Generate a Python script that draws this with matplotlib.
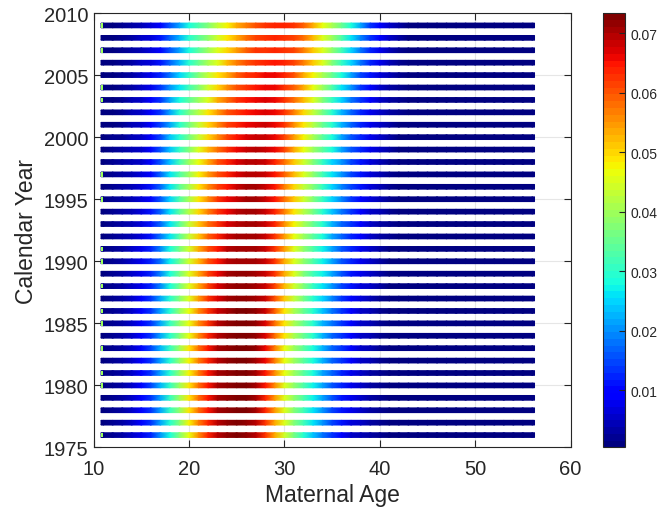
"""Maternal age distribution of births by calendar year, drawn as colour-coded bands."""
import matplotlib
matplotlib.use("Agg")
import matplotlib.pyplot as plt
import numpy as np
from matplotlib.cm import ScalarMappable
from matplotlib.colors import Normalize
from matplotlib.patches import Rectangle

plt.rcParams["font.family"] = ["Liberation Sans", "DejaVu Sans"]

AGES = list(range(11, 57))
YEARS = list(range(1976, 2010))

# share of births at each maternal age (per mille), one row per year, ages 11..56
RATE_PERMILLE = [
    [1, 2, 3, 5, 8, 12, 20, 28, 37, 47, 56, 64, 69, 72, 73, 72, 69, 62, 53, 44, 36, 30, 24, 18, 13, 9, 6, 4, 3, 2, 1, 1, 1, 0.6, 0.5, 0.5, 0.5, 0.5, 0.5, 0.5, 0.5, 0.5, 0.5, 0.5, 0.5, 0.5],  # 1976
    [1, 2, 3, 5, 9, 13, 21, 30, 38, 48, 57, 64, 69, 72, 73, 72, 69, 63, 54, 45, 38, 32, 26, 20, 15, 11, 7, 5, 3, 2, 1.5, 1, 0.8, 0.6, 0.5, 0.5, 0.5, 0.5, 0.5, 0.5, 0.5, 0.5, 0.5, 0.5, 0.5, 0.5],  # 1977
    [1, 2, 3, 5, 9, 14, 22, 31, 39, 49, 58, 65, 70, 72, 73, 73, 70, 64, 55, 46, 38, 32, 26, 20, 15, 11, 8, 5, 3, 2, 1.5, 1, 0.8, 0.6, 0.5, 0.5, 0.5, 0.5, 0.5, 0.5, 0.5, 0.5, 0.5, 0.5, 0.5, 0.5],  # 1978
    [1, 2, 3, 5, 9, 14, 22, 31, 40, 49, 58, 65, 70, 72, 73, 73, 70, 64, 55, 46, 39, 33, 27, 21, 16, 11, 8, 5, 3, 2, 1.5, 1, 0.8, 0.6, 0.5, 0.5, 0.5, 0.5, 0.5, 0.5, 0.5, 0.5, 0.5, 0.5, 0.5, 0.5],  # 1979
    [1, 2, 3, 6, 10, 15, 23, 31, 40, 49, 58, 65, 70, 72, 73, 73, 71, 65, 56, 46, 39, 33, 27, 21, 16, 12, 8, 5, 3, 2, 1.5, 1, 0.8, 0.6, 0.5, 0.5, 0.5, 0.5, 0.5, 0.5, 0.5, 0.5, 0.5, 0.5, 0.5, 0.5],  # 1980
    [1, 2, 3, 5, 9, 14, 22, 30, 39, 48, 57, 65, 70, 72, 73, 73, 71, 65, 56, 47, 40, 34, 28, 22, 17, 12, 8, 5, 3, 2, 1.5, 1, 0.8, 0.6, 0.5, 0.5, 0.5, 0.5, 0.5, 0.5, 0.5, 0.5, 0.5, 0.5, 0.5, 0.5],  # 1981
    [1, 2, 3, 5, 9, 14, 22, 30, 39, 48, 57, 64, 69, 72, 73, 73, 71, 66, 57, 47, 40, 34, 28, 23, 17, 13, 9, 6, 4, 2, 1.5, 1, 0.8, 0.6, 0.5, 0.5, 0.5, 0.5, 0.5, 0.5, 0.5, 0.5, 0.5, 0.5, 0.5, 0.5],  # 1982
    [1, 2, 3, 6, 10, 15, 23, 31, 40, 49, 58, 65, 70, 72, 73, 73, 72, 66, 57, 47, 40, 34, 28, 23, 17, 13, 9, 6, 4, 2, 1.5, 1, 0.8, 0.6, 0.5, 0.5, 0.5, 0.5, 0.5, 0.5, 0.5, 0.5, 0.5, 0.5, 0.5, 0.5],  # 1983
    [1, 2, 3, 5, 9, 13, 21, 30, 38, 47, 56, 64, 69, 72, 73, 73, 72, 67, 58, 49, 41, 35, 29, 23, 17, 13, 9, 6, 4, 2, 1.5, 1, 0.8, 0.6, 0.5, 0.5, 0.5, 0.5, 0.5, 0.5, 0.5, 0.5, 0.5, 0.5, 0.5, 0.5],  # 1984
    [1, 2, 3, 5, 9, 14, 22, 31, 39, 47, 56, 63, 69, 72, 73, 73, 72, 67, 58, 49, 41, 35, 29, 23, 18, 13, 9, 6, 4, 2, 1.5, 1, 0.8, 0.6, 0.5, 0.5, 0.5, 0.5, 0.5, 0.5, 0.5, 0.5, 0.5, 0.5, 0.5, 0.5],  # 1985
    [1, 2, 3, 5, 9, 14, 22, 30, 39, 47, 56, 63, 68, 71, 73, 73, 72, 68, 59, 49, 41, 35, 29, 24, 18, 13, 9, 6, 4, 2.5, 1.5, 1, 0.8, 0.6, 0.5, 0.5, 0.5, 0.5, 0.5, 0.5, 0.5, 0.5, 0.5, 0.5, 0.5, 0.5],  # 1986
    [1, 2, 3, 5, 9, 13, 21, 30, 38, 46, 55, 62, 67, 70, 72, 72, 71, 68, 60, 51, 43, 36, 30, 25, 19, 14, 10, 7, 4, 2.5, 1.5, 1, 0.8, 0.6, 0.5, 0.5, 0.5, 0.5, 0.5, 0.5, 0.5, 0.5, 0.5, 0.5, 0.5, 0.5],  # 1987
    [1, 2, 3, 5, 8, 12, 19, 28, 36, 45, 54, 61, 67, 70, 72, 72, 71, 68, 61, 52, 44, 37, 31, 26, 20, 15, 11, 7, 5, 3, 1.5, 1, 0.8, 0.6, 0.5, 0.5, 0.5, 0.5, 0.5, 0.5, 0.5, 0.5, 0.5, 0.5, 0.5, 0.5],  # 1988
    [1, 2, 3, 5, 8, 12, 19, 28, 36, 45, 54, 61, 66, 70, 72, 72, 71, 68, 62, 53, 45, 38, 32, 27, 21, 16, 11, 8, 5, 3, 1.5, 1, 0.8, 0.6, 0.5, 0.5, 0.5, 0.5, 0.5, 0.5, 0.5, 0.5, 0.5, 0.5, 0.5, 0.5],  # 1989
    [1, 2, 3, 5, 8, 12, 18, 27, 35, 44, 52, 60, 65, 69, 71, 71, 70, 68, 62, 54, 45, 39, 33, 27, 21, 16, 12, 8, 5, 3, 1.5, 1, 0.8, 0.6, 0.5, 0.5, 0.5, 0.5, 0.5, 0.5, 0.5, 0.5, 0.5, 0.5, 0.5, 0.5],  # 1990
    [1, 2, 3, 5, 8, 12, 19, 28, 36, 44, 53, 60, 65, 69, 71, 71, 70, 68, 63, 55, 46, 39, 33, 27, 21, 16, 12, 8, 5, 3, 1.5, 1, 0.8, 0.6, 0.5, 0.5, 0.5, 0.5, 0.5, 0.5, 0.5, 0.5, 0.5, 0.5, 0.5, 0.5],  # 1991
    [1, 2, 3, 4, 7, 11, 18, 26, 34, 43, 51, 59, 64, 68, 70, 71, 70, 68, 63, 55, 47, 40, 34, 28, 22, 17, 12, 9, 6, 3.5, 2, 1.2, 0.8, 0.6, 0.5, 0.5, 0.5, 0.5, 0.5, 0.5, 0.5, 0.5, 0.5, 0.5, 0.5, 0.5],  # 1992
    [1, 2, 3, 4, 7, 11, 17, 26, 34, 43, 51, 58, 63, 67, 69, 70, 70, 68, 64, 56, 48, 41, 35, 29, 23, 17, 13, 9, 6, 3.5, 2, 1.2, 0.8, 0.6, 0.5, 0.5, 0.5, 0.5, 0.5, 0.5, 0.5, 0.5, 0.5, 0.5, 0.5, 0.5],  # 1993
    [1, 2, 3, 4, 7, 11, 17, 26, 34, 42, 50, 57, 62, 66, 69, 70, 70, 68, 64, 57, 49, 42, 36, 30, 24, 18, 13, 9, 6, 4, 2, 1.2, 0.8, 0.6, 0.5, 0.5, 0.5, 0.5, 0.5, 0.5, 0.5, 0.5, 0.5, 0.5, 0.5, 0.5],  # 1994
    [1, 2, 3, 4, 7, 10, 16, 25, 33, 41, 49, 56, 62, 66, 68, 70, 70, 68, 65, 58, 51, 44, 37, 31, 25, 19, 14, 10, 7, 4, 2.5, 1.5, 1, 0.6, 0.5, 0.5, 0.5, 0.5, 0.5, 0.5, 0.5, 0.5, 0.5, 0.5, 0.5, 0.5],  # 1995
    [1, 2, 3, 4, 7, 11, 17, 26, 34, 41, 49, 56, 61, 65, 68, 70, 70, 68, 65, 57, 50, 43, 37, 31, 25, 19, 15, 11, 7, 4, 2.5, 1.5, 1, 0.6, 0.5, 0.5, 0.5, 0.5, 0.5, 0.5, 0.5, 0.5, 0.5, 0.5, 0.5, 0.5],  # 1996
    [1, 2, 3, 4, 7, 10, 17, 26, 33, 40, 48, 55, 60, 64, 67, 69, 69, 68, 65, 59, 52, 45, 39, 32, 26, 20, 15, 11, 7, 4.5, 2.5, 1.5, 1, 0.6, 0.5, 0.5, 0.5, 0.5, 0.5, 0.5, 0.5, 0.5, 0.5, 0.5, 0.5, 0.5],  # 1997
    [1, 2, 3, 4, 6, 10, 16, 24, 32, 40, 47, 54, 60, 64, 67, 69, 69, 68, 64, 58, 51, 44, 37, 31, 25, 20, 15, 11, 7, 4.5, 2.5, 1.5, 1, 0.6, 0.5, 0.5, 0.5, 0.5, 0.5, 0.5, 0.5, 0.5, 0.5, 0.5, 0.5, 0.5],  # 1998
    [1, 2, 3, 4, 6, 10, 16, 24, 31, 38, 45, 52, 58, 63, 66, 68, 69, 68, 66, 61, 54, 47, 40, 34, 28, 22, 16, 12, 8, 5, 3, 1.5, 1, 0.6, 0.5, 0.5, 0.5, 0.5, 0.5, 0.5, 0.5, 0.5, 0.5, 0.5, 0.5, 0.5],  # 1999
    [1, 2, 2.5, 4, 6, 9, 15, 24, 30, 36, 43, 50, 56, 61, 65, 67, 68, 68, 66, 61, 55, 48, 41, 34, 28, 22, 16, 12, 8, 5, 3, 1.5, 1, 0.6, 0.5, 0.5, 0.5, 0.5, 0.5, 0.5, 0.5, 0.5, 0.5, 0.5, 0.5, 0.5],  # 2000
    [1, 1.5, 2.5, 4, 6, 9, 15, 22, 29, 36, 43, 50, 56, 61, 64, 66, 67, 68, 66, 62, 56, 49, 42, 35, 29, 23, 17, 12, 8, 5, 3, 1.5, 1, 0.6, 0.5, 0.5, 0.5, 0.5, 0.5, 0.5, 0.5, 0.5, 0.5, 0.5, 0.5, 0.5],  # 2001
    [1, 1.5, 2.5, 4, 6, 9, 14, 22, 29, 36, 42, 49, 55, 60, 63, 65, 66, 67, 66, 62, 57, 50, 43, 36, 29, 23, 17, 12, 8, 5, 3, 1.8, 1, 0.6, 0.5, 0.5, 0.5, 0.5, 0.5, 0.5, 0.5, 0.5, 0.5, 0.5, 0.5, 0.5],  # 2002
    [1, 1.5, 2.5, 4, 6, 9, 14, 21, 28, 34, 40, 46, 53, 58, 62, 65, 66, 67, 66, 63, 58, 52, 45, 38, 31, 25, 18, 13, 9, 5.5, 3, 1.8, 1, 0.6, 0.5, 0.5, 0.5, 0.5, 0.5, 0.5, 0.5, 0.5, 0.5, 0.5, 0.5, 0.5],  # 2003
    [1, 1.5, 2.5, 3.5, 5.5, 8, 13, 20, 26, 32, 38, 44, 50, 56, 60, 63, 65, 66, 66, 63, 59, 53, 47, 40, 33, 26, 20, 14, 10, 6, 3.5, 2, 1.2, 0.7, 0.5, 0.5, 0.5, 0.5, 0.5, 0.5, 0.5, 0.5, 0.5, 0.5, 0.5, 0.5],  # 2004
    [1, 1.5, 2.5, 3.5, 5, 8, 12, 18, 25, 31, 37, 43, 49, 54, 59, 62, 64, 66, 66, 64, 60, 54, 48, 41, 35, 28, 21, 15, 11, 7, 4, 2, 1.2, 0.7, 0.5, 0.5, 0.5, 0.5, 0.5, 0.5, 0.5, 0.5, 0.5, 0.5, 0.5, 0.5],  # 2005
    [1, 1.5, 2, 3, 5, 7, 11, 17, 23, 29, 35, 41, 46, 52, 57, 60, 63, 64, 65, 64, 61, 57, 51, 45, 38, 31, 25, 18, 12, 8, 4.5, 2.5, 1.5, 0.8, 0.5, 0.5, 0.5, 0.5, 0.5, 0.5, 0.5, 0.5, 0.5, 0.5, 0.5, 0.5],  # 2006
    [1, 1.5, 2, 3, 4.5, 7, 10, 16, 22, 28, 34, 40, 45, 50, 55, 59, 62, 63, 64, 63, 61, 57, 51, 45, 39, 32, 25, 18, 12, 8, 4.5, 2.5, 1.5, 0.8, 0.5, 0.5, 0.5, 0.5, 0.5, 0.5, 0.5, 0.5, 0.5, 0.5, 0.5, 0.5],  # 2007
    [1, 1.5, 2, 3, 5, 7, 11, 17, 23, 29, 34, 39, 44, 49, 54, 58, 61, 63, 64, 63, 61, 58, 52, 46, 40, 33, 26, 19, 13, 9, 5, 3, 1.5, 0.8, 0.5, 0.5, 0.5, 0.5, 0.5, 0.5, 0.5, 0.5, 0.5, 0.5, 0.5, 0.5],  # 2008
    [1, 1.5, 2, 3, 4.5, 7, 10, 16, 22, 28, 33, 38, 43, 48, 53, 57, 60, 63, 64, 64, 62, 59, 53, 47, 41, 35, 28, 21, 14, 9, 5, 3, 1.5, 0.8, 0.5, 0.5, 0.5, 0.5, 0.5, 0.5, 0.5, 0.5, 0.5, 0.5, 0.5, 0.5],  # 2009
]

# rows whose left end shows a light-green cap in the original rendering
GREEN_START_YEARS = [1976, 1980, 1981, 1983, 1985, 1986, 1988, 1990, 1991,
                     1995, 1997, 2003, 2004, 2007, 2009]

CBAR_MIN, CBAR_MAX = 0.0004, 0.0734
CBAR_TICKS = [0.01, 0.02, 0.03, 0.04, 0.05, 0.06, 0.07]
X_TICKS = [10, 20, 30, 40, 50, 60]
Y_TICKS = [1975, 1980, 1985, 1990, 1995, 2000, 2005, 2010]

INK = "#262626"


def main():
    fig = plt.figure(figsize=(6.62, 5.10), dpi=100)
    ax = fig.add_axes([0.1414, 0.1206, 0.7205, 0.8519])
    cax = fig.add_axes([0.9113, 0.1206, 0.0328, 0.8519])

    cmap = plt.get_cmap("jet", 64)
    norm = Normalize(CBAR_MIN, CBAR_MAX)

    ages = np.array(AGES, dtype=float)
    half = 0.19   # half thickness of a band, in years
    cap = 0.22    # square-cap overhang, in years of age
    xs = np.concatenate([[ages[0] - cap], ages, [ages[-1] + cap]])

    for year, row in zip(YEARS, RATE_PERMILLE):
        v = np.array(row, dtype=float) / 1000.0
        c = np.concatenate([[v[0]], v, [v[-1]]])
        X = np.vstack([xs, xs])
        Y = np.vstack([np.full_like(xs, year - half), np.full_like(xs, year + half)])
        ax.pcolormesh(X, Y, np.vstack([c, c]), shading="gouraud",
                      cmap=cmap, norm=norm, zorder=2)
        if year in GREEN_START_YEARS:
            ax.add_patch(Rectangle((ages[0] - cap, year - half), 0.18, 2 * half,
                                   facecolor=cmap(norm(0.040)), edgecolor="none",
                                   lw=0, zorder=3))

    ax.set_xlim(10, 60)
    ax.set_ylim(1975, 2010)
    ax.set_xticks(X_TICKS)
    ax.set_yticks(Y_TICKS)
    ax.grid(True, color="#e6e6e6", linewidth=0.8)
    ax.set_axisbelow(True)
    for sp in ax.spines.values():
        sp.set_color(INK)
        sp.set_linewidth(0.8)
    ax.tick_params(direction="in", length=5, width=0.8, top=True, right=True,
                   colors=INK, labelsize=14.5)
    ax.tick_params(axis="x", pad=8)
    ax.tick_params(axis="y", pad=4)
    ax.set_xlabel("Maternal Age", fontsize=16.5, color=INK, labelpad=4)
    ax.set_ylabel("Calendar Year", fontsize=16.5, color=INK, labelpad=4)

    cb = fig.colorbar(ScalarMappable(norm=norm, cmap=cmap), cax=cax, ticks=CBAR_TICKS)
    cb.outline.set_edgecolor(INK)
    cb.outline.set_linewidth(0.8)
    cax.tick_params(direction="in", length=4, width=0.8, colors=INK, labelsize=10, pad=4)

    fig.savefig("out.png", dpi=100)


if __name__ == "__main__":
    main()
